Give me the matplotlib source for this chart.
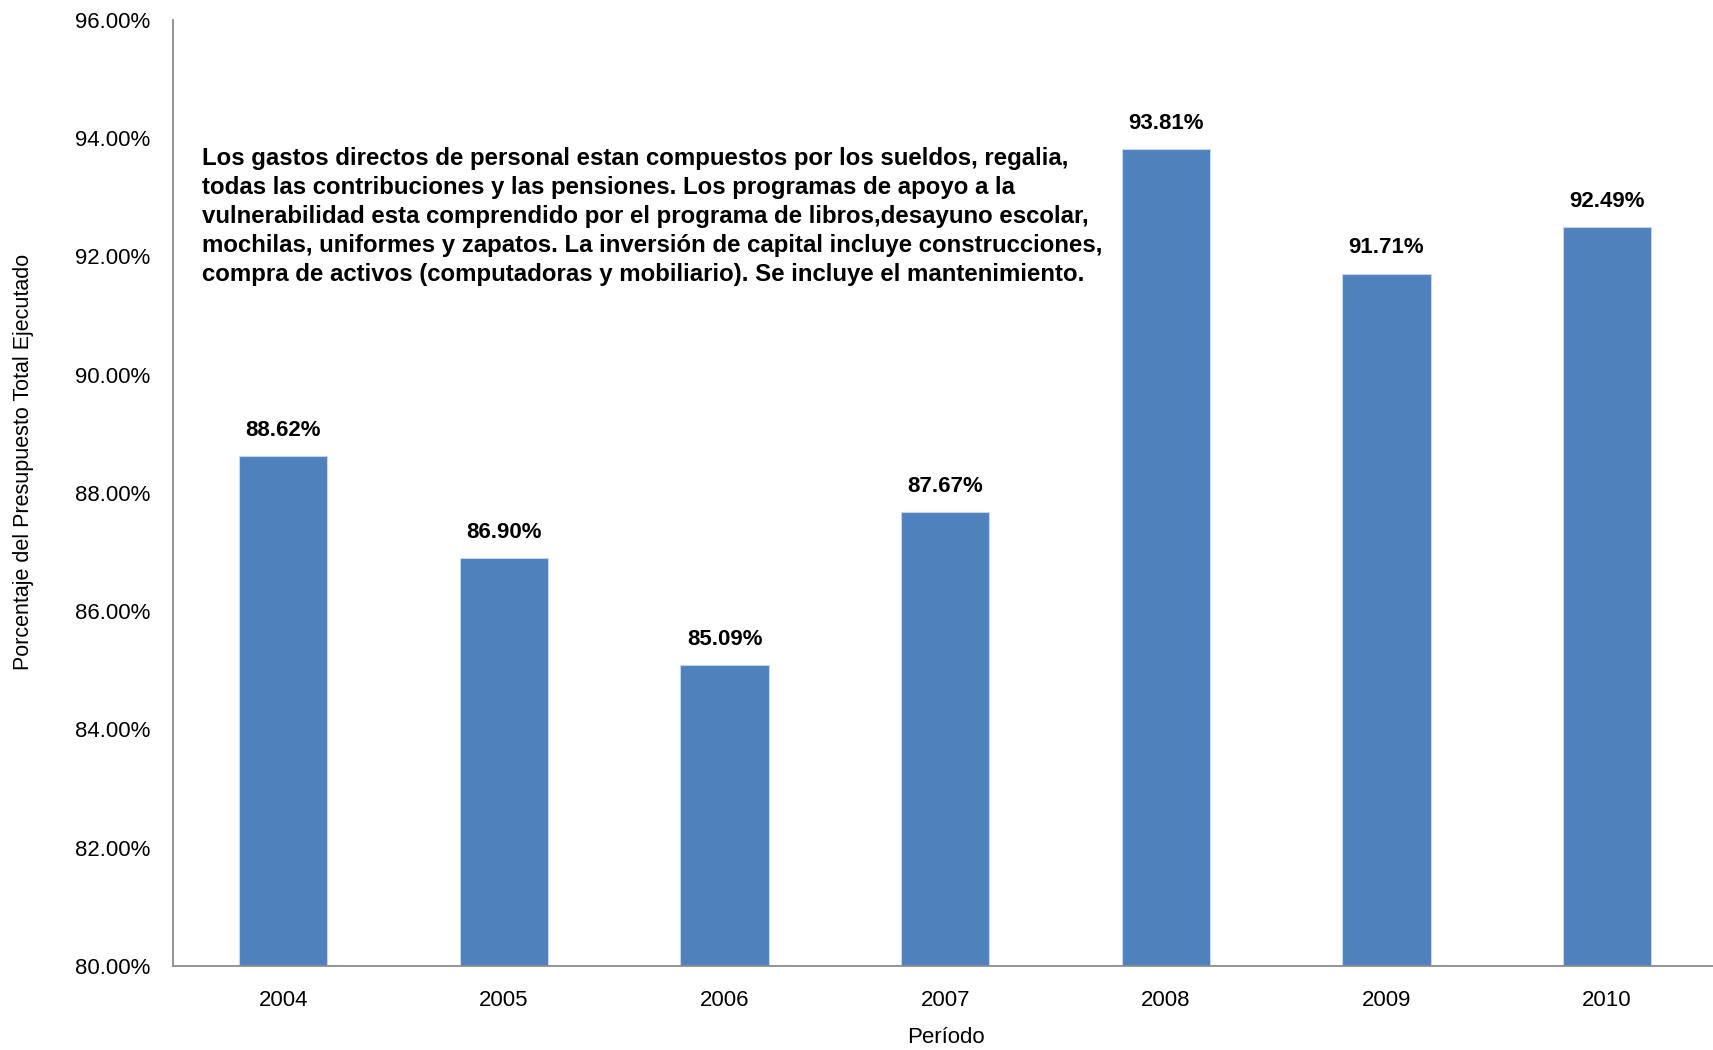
import matplotlib
matplotlib.use("Agg")
import matplotlib.pyplot as plt
from matplotlib.ticker import FuncFormatter

years = ["2004", "2005", "2006", "2007", "2008", "2009", "2010"]
values = [88.62, 86.90, 85.09, 87.67, 93.81, 91.71, 92.49]
yticks = [80, 82, 84, 86, 88, 90, 92, 94, 96]
note = ("Los gastos directos de personal estan compuestos por los sueldos, regalia,\n"
        "todas las contribuciones y las pensiones. Los programas de apoyo a la\n"
        "vulnerabilidad esta comprendido por el programa de libros,desayuno escolar,\n"
        "mochilas, uniformes y zapatos. La inversión de capital incluye construcciones,\n"
        "compra de activos (computadoras y mobiliario). Se incluye el mantenimiento.")

plt.rcParams['font.family'] = ['Liberation Sans Narrow', 'Liberation Sans', 'DejaVu Sans']

fig = plt.figure(figsize=(17.13, 10.5), dpi=100)
ax = fig.add_axes([0.101, 0.08, 0.899, 0.901])

x = list(range(len(years)))
ax.bar(x, values, width=0.40, color="#4F81BD", edgecolor="#C6D5EA", linewidth=0.8)
ax.set_ylim(80, 96)
ax.set_xlim(-0.5, 6.48)
ax.set_yticks(yticks)
ax.yaxis.set_major_formatter(FuncFormatter(lambda v, p: f"{v:.2f}%"))
ax.set_xticks(x)
ax.set_xticklabels(years)
ax.tick_params(axis='both', length=0, labelsize=16, colors="black")
ax.tick_params(axis='y', pad=16.5)
ax.tick_params(axis='x', pad=17)
for s in ["top", "right"]:
    ax.spines[s].set_visible(False)
for s in ["left", "bottom"]:
    ax.spines[s].set_color("#8C8C8C")
    ax.spines[s].set_linewidth(1.3)

for xi, v in zip(x, values):
    ax.annotate(f"{v:.2f}%", (xi, v), xytext=(0, 11), textcoords="offset points",
                ha="center", va="bottom", fontsize=16, fontweight="bold")

ax.set_ylabel("Porcentaje del Presupuesto Total Ejecutado", fontsize=15.5)
ax.yaxis.set_label_coords(-0.090, 0.533)
ax.set_xlabel("Período", fontsize=16)
ax.xaxis.set_label_coords(0.502, -0.064)

ax.text(-0.37, 93.85, note, ha="left", va="top", fontsize=17.3, fontweight="bold",
        linespacing=1.33)

fig.savefig("out.png", dpi=100)
